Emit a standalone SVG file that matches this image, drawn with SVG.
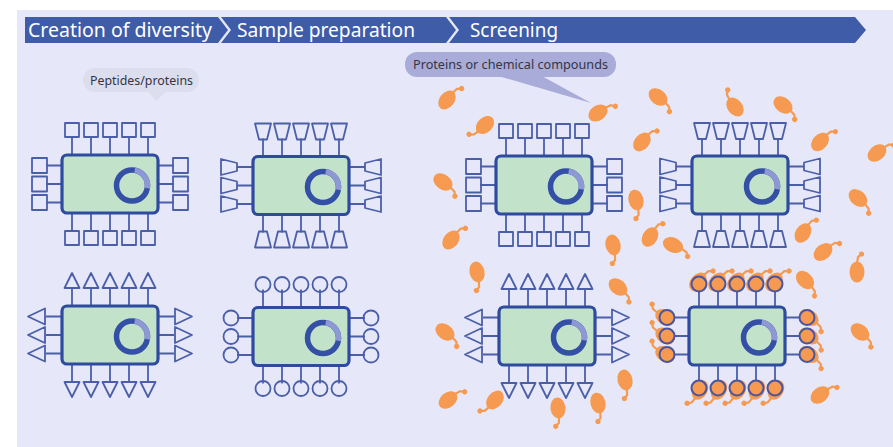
<svg xmlns="http://www.w3.org/2000/svg" xmlns:xlink="http://www.w3.org/1999/xlink" width="893" height="447" viewBox="0 0 893 447">
  <style>
    .hdr { fill: #3f5ca8; }
    .hdr-text { fill: #ffffff; font-family: "Noto Sans", "Open Sans", sans-serif; font-size: 19px; }
    .note-text { fill: #353545; font-family: "Noto Sans", "Open Sans", sans-serif; font-size: 12.5px; }
    .body { fill: #c3e2ca; stroke: #2f4b9f; stroke-width: 3.2; }
    .ring { fill: none; stroke: #3350a6; stroke-width: 5.5; }
    .ring-lit { fill: none; stroke: #8e98d4; stroke-width: 5.5; }
    .rec { fill: none; stroke: #4b5fa9; stroke-width: 1.8; stroke-linejoin: round; }
    .rec-bound { fill: #f59a50; stroke: #4a55a0; stroke-width: 2; }
    .mol-body { fill: #f59a50; }
    .mol-tail { fill: none; stroke: #f59a50; stroke-width: 2.2; stroke-linecap: round; }
  </style>
  <defs>
    <!-- cell body with its ring-shaped nucleus -->
    <g id="cell-body">
      <rect class="body" x="-48" y="-29" width="96" height="58" rx="5"/>
      <circle class="ring" cx="22" cy="1.5" r="15.5"/>
      <path class="ring-lit" d="M24.7,-13.8 A15.5,15.5 0 0 1 37.3,4.2"/>
    </g>
    <!-- stalks shared by all receptor sets -->
    <path id="stalks" class="rec" d="M-38,-29V-47M-19,-29V-47M0,-29V-47M19,-29V-47M38,-29V-47M-38,29V47M-19,29V47M0,29V47M19,29V47M38,29V47M-48,-18.5H-64M-48,0H-64M-48,18.5H-64M48,-18.5H64M48,0H64M48,18.5H64"/>
    <!-- square receptors -->
    <g id="rec-square">
      <use href="#stalks"/>
      <path class="rec" d="M-45,-61h14v14h-14zM-26,-61h14v14h-14zM-7,-61h14v14h-14zM12,-61h14v14h-14zM31,-61h14v14h-14zM-45,47h14v14h-14zM-26,47h14v14h-14zM-7,47h14v14h-14zM12,47h14v14h-14zM31,47h14v14h-14zM-78,-26h15v15h-15zM-78,-7.5h15v15h-15zM-78,11h15v15h-15zM63,-26h15v15h-15zM63,-7.5h15v15h-15zM63,11h15v15h-15z"/>
    </g>
    <!-- cup-shaped receptors -->
    <g id="rec-trap">
      <use href="#stalks"/>
      <path class="rec" d="M-46,-62h16l-4,16h-8zM-27,-62h16l-4,16h-8zM-8,-62h16l-4,16h-8zM11,-62h16l-4,16h-8zM30,-62h16l-4,16h-8zM-46,62h16l-4,-16h-8zM-27,62h16l-4,-16h-8zM-8,62h16l-4,-16h-8zM11,62h16l-4,-16h-8zM30,62h16l-4,-16h-8zM-80,-26.5v16l16,-4v-8zM-80,-8v16l16,-4v-8zM-80,10.5v16l16,-4v-8zM80,-26.5v16l-16,-4v-8zM80,-8v16l-16,-4v-8zM80,10.5v16l-16,-4v-8z"/>
    </g>
    <!-- arrow-head receptors -->
    <g id="rec-tri">
      <use href="#stalks"/>
      <path class="rec" d="M-45.5,-47h15l-7.5,-15zM-26.5,-47h15l-7.5,-15zM-7.5,-47h15l-7.5,-15zM11.5,-47h15l-7.5,-15zM30.5,-47h15l-7.5,-15zM-45.5,47h15l-7.5,15zM-26.5,47h15l-7.5,15zM-7.5,47h15l-7.5,15zM11.5,47h15l-7.5,15zM30.5,47h15l-7.5,15zM-65,-26.5v16l-17,-8zM-65,-8v16l-17,-8zM-65,10.5v16l-17,-8zM65,-26.5v16l17,-8zM65,-8v16l17,-8zM65,10.5v16l17,-8z"/>
    </g>
    <!-- round receptors -->
    <g id="rec-circle-shapes">
      <circle cx="-38" cy="-52" r="7.5"/><circle cx="-19" cy="-52" r="7.5"/><circle cx="0" cy="-52" r="7.5"/><circle cx="19" cy="-52" r="7.5"/><circle cx="38" cy="-52" r="7.5"/>
      <circle cx="-38" cy="52" r="7.5"/><circle cx="-19" cy="52" r="7.5"/><circle cx="0" cy="52" r="7.5"/><circle cx="19" cy="52" r="7.5"/><circle cx="38" cy="52" r="7.5"/>
      <circle cx="-70" cy="-18.5" r="7.5"/><circle cx="-70" cy="0" r="7.5"/><circle cx="-70" cy="18.5" r="7.5"/>
      <circle cx="70" cy="-18.5" r="7.5"/><circle cx="70" cy="0" r="7.5"/><circle cx="70" cy="18.5" r="7.5"/>
    </g>
    <!-- free ligand molecule: oval body with a short knobbed tail -->
    <g id="mol">
      <ellipse class="mol-body" cx="0" cy="0" rx="7.5" ry="10.5"/>
      <path class="mol-tail" d="M0,-9L1,-15L4,-17.5"/>
      <circle class="mol-body" cx="4.5" cy="-18" r="2.6"/>
    </g>
  </defs>

  <!-- page -->
  <rect x="0" y="0" width="893" height="447" fill="#ffffff"/>
  <rect x="17" y="10" width="876" height="437" fill="#e6e8f9"/>

  <!-- process header -->
  <g id="header">
    <g id="step-diversity">
      <polygon class="hdr" points="25,17 218,17 228,30 218,43 25,43"/>
      <text class="hdr-text" x="28" y="37" textLength="184" lengthAdjust="spacingAndGlyphs">Creation of diversity</text>
    </g>
    <g id="step-preparation">
      <polygon class="hdr" points="221,17 446,17 456,30 446,43 221,43 231,30"/>
      <text class="hdr-text" x="237" y="37" textLength="178" lengthAdjust="spacingAndGlyphs">Sample preparation</text>
    </g>
    <g id="step-screening">
      <polygon class="hdr" points="449,17 855,17 866,30 855,43 449,43 459,30"/>
      <text class="hdr-text" x="470" y="37" textLength="88" lengthAdjust="spacingAndGlyphs">Screening</text>
    </g>
  </g>

  <!-- callouts -->
  <g id="note-peptides">
    <polygon points="147,90 168,90 156,101" fill="#dcdded"/>
    <rect x="83" y="68" width="116" height="24" rx="12" fill="#dcdded"/>
    <text class="note-text" x="90" y="85" textLength="103" lengthAdjust="spacingAndGlyphs">Peptides/proteins</text>
  </g>
  <g id="note-compounds">
    <polygon points="495,75 540,75 591,103" fill="#a9acd8"/>
    <rect x="405" y="52" width="211" height="25" rx="12" fill="#a9acd8"/>
    <text class="note-text" x="413" y="69" textLength="195" lengthAdjust="spacingAndGlyphs">Proteins or chemical compounds</text>
  </g>

  <!-- library cells -->
  <g id="cell-square" transform="translate(110,184)">
    <use href="#rec-square"/><use href="#cell-body"/>
  </g>
  <g id="cell-trap" transform="translate(301,185.5)">
    <use href="#rec-trap"/><use href="#cell-body"/>
  </g>
  <g id="cell-tri" transform="translate(110,335)">
    <use href="#rec-tri"/><use href="#cell-body"/>
  </g>
  <g id="cell-circle" transform="translate(301,336.5)">
    <use href="#stalks"/><use href="#rec-circle-shapes" class="rec"/><use href="#cell-body"/>
  </g>

  <!-- screened cells -->
  <g id="screen-square" transform="translate(544,185)">
    <use href="#rec-square"/><use href="#cell-body"/>
  </g>
  <g id="screen-trap" transform="translate(740,185)">
    <use href="#rec-trap"/><use href="#cell-body"/>
  </g>
  <g id="screen-tri" transform="translate(547,336)">
    <use href="#rec-tri"/><use href="#cell-body"/>
  </g>
  <g id="screen-bound" transform="translate(737,336)">
    <use href="#stalks"/>
    <!-- ligands captured by the round receptors -->
    <use href="#mol" transform="translate(-39,-54) rotate(40)"/>
    <use href="#mol" transform="translate(-20,-54) rotate(40)"/>
    <use href="#mol" transform="translate(-1,-54) rotate(40)"/>
    <use href="#mol" transform="translate(18,-54) rotate(40)"/>
    <use href="#mol" transform="translate(37,-54) rotate(40)"/>
    <use href="#mol" transform="translate(-37,54) rotate(-150)"/>
    <use href="#mol" transform="translate(-18,54) rotate(-150)"/>
    <use href="#mol" transform="translate(1,54) rotate(-150)"/>
    <use href="#mol" transform="translate(20,54) rotate(-150)"/>
    <use href="#mol" transform="translate(39,54) rotate(-150)"/>
    <use href="#mol" transform="translate(-72,-18.5) rotate(-58)"/>
    <use href="#mol" transform="translate(-72,0) rotate(-58)"/>
    <use href="#mol" transform="translate(-72,18.5) rotate(-58)"/>
    <use href="#mol" transform="translate(72,-18.5) rotate(125)"/>
    <use href="#mol" transform="translate(72,0) rotate(125)"/>
    <use href="#mol" transform="translate(72,18.5) rotate(125)"/>
    <use href="#rec-circle-shapes" class="rec-bound"/>
    <use href="#cell-body"/>
  </g>

  <!-- free ligands in the screening mix -->
  <g id="ligands">
    <use href="#mol" transform="translate(447,100) rotate(38)"/>
    <use href="#mol" transform="translate(485,125) rotate(-134)"/>
    <use href="#mol" transform="translate(598,113) rotate(55)"/>
    <use href="#mol" transform="translate(443,182) rotate(126)"/>
    <use href="#mol" transform="translate(451,240) rotate(37)"/>
    <use href="#mol" transform="translate(642,142) rotate(40)"/>
    <use href="#mol" transform="translate(636,200) rotate(166)"/>
    <use href="#mol" transform="translate(613,245) rotate(168)"/>
    <use href="#mol" transform="translate(650,237) rotate(30)"/>
    <use href="#mol" transform="translate(658,97) rotate(128)"/>
    <use href="#mol" transform="translate(735,107) rotate(-37)"/>
    <use href="#mol" transform="translate(783,105) rotate(127)"/>
    <use href="#mol" transform="translate(820,142) rotate(42)"/>
    <use href="#mol" transform="translate(877,153) rotate(51)"/>
    <use href="#mol" transform="translate(858,198) rotate(131)"/>
    <use href="#mol" transform="translate(803,233) rotate(32)"/>
    <use href="#mol" transform="translate(673,245) rotate(114)"/>
    <use href="#mol" transform="translate(823,252) rotate(49)"/>
    <use href="#mol" transform="translate(477,272) rotate(168)"/>
    <use href="#mol" transform="translate(618,287) rotate(130)"/>
    <use href="#mol" transform="translate(445,332) rotate(127)"/>
    <use href="#mol" transform="translate(625,380) rotate(168)"/>
    <use href="#mol" transform="translate(448,400) rotate(50)"/>
    <use href="#mol" transform="translate(495,400) rotate(-140)"/>
    <use href="#mol" transform="translate(558,408) rotate(173)"/>
    <use href="#mol" transform="translate(598,403) rotate(166)"/>
    <use href="#mol" transform="translate(857,272) rotate(0)"/>
    <use href="#mol" transform="translate(805,280) rotate(135)"/>
    <use href="#mol" transform="translate(860,332) rotate(130)"/>
    <use href="#mol" transform="translate(820,395) rotate(52)"/>
  </g>
</svg>
